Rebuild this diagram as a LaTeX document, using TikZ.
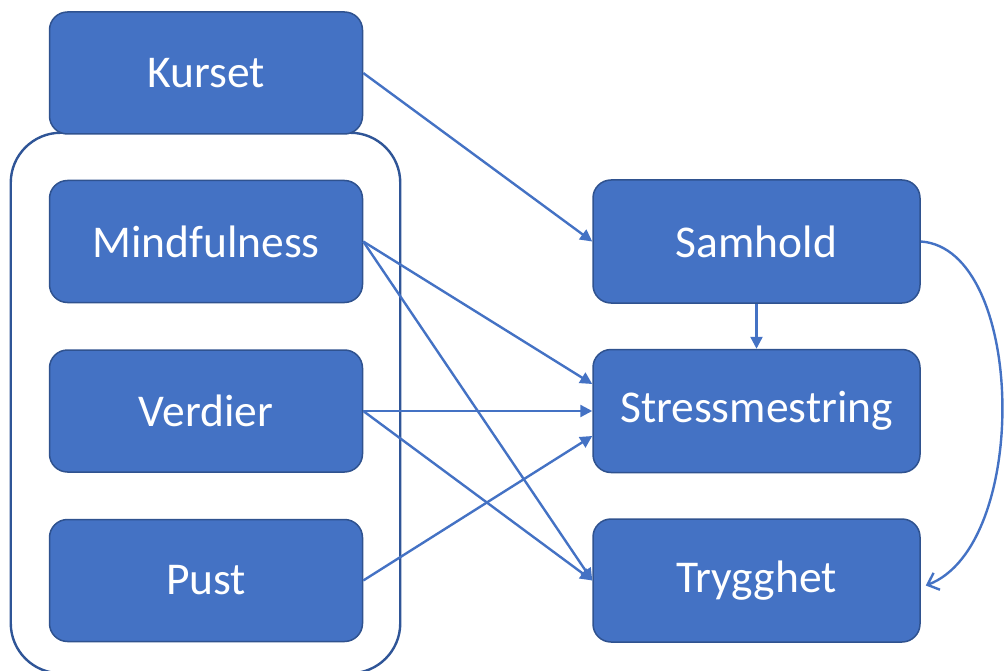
\documentclass[tikz,border=0pt]{standalone}
\usepackage{fontspec}
\setmainfont{Carlito}
\usetikzlibrary{positioning,arrows.meta,backgrounds}

\definecolor{boxblue}{HTML}{4472C4}
\definecolor{edgeblue}{HTML}{2F528F}
\definecolor{groupblue}{HTML}{2F5597}

\begin{document}
\begin{tikzpicture} [
                x=1pt, y=1pt,
                factornode/.style={
                    rectangle,
                    rounded corners=18pt,
                    draw=edgeblue,
                    line width=1.5pt,
                    fill=boxblue,
                    text=white,
                    font=\fontsize{45.5}{54}\selectfont,
                    minimum width=313pt,
                    minimum height=122pt
                },
                outcomenode/.style={
                    factornode,
                    minimum width=327pt,
                    minimum height=123pt
                },
                effect/.style={
                    draw=boxblue,
                    line width=2.4pt,
                    -{Triangle[length=12pt,width=12pt]}
                }
            ]

                \useasboundingbox (0,0) rectangle (1006,-671);

                \node[factornode]   (kurset)                                        at (206,-73)    {Kurset};
                \node[factornode]   (mindfulness)   [below=45pt of kurset]                          {Mindfulness};
                \node[factornode]   (verdier)       [below=46pt of mindfulness]                     {Verdier};
                \node[factornode]   (pust)          [below=46pt of verdier]                         {Pust};

                \node[outcomenode]  (samhold)       [right=229pt of mindfulness]                    {Samhold};
                \node[outcomenode]  (stress)        [below=45pt of samhold]                         {Stressmestring};
                \node[outcomenode]  (trygghet)      [below=45pt of stress]                          {Trygghet};

                \begin{scope}[on background layer]
                    \draw[groupblue, line width=2.4pt, rounded corners=50pt]
                        ([shift={(-38,47)}]mindfulness.north west) rectangle ([shift={(37,-31)}]pust.south east);
                \end{scope}

                \draw[effect] (kurset.east)         -- (samhold.west);
                \draw[effect] (mindfulness.east)    -- ([yshift=27pt]stress.west);
                \draw[effect] (mindfulness.east)    -- (trygghet.west);
                \draw[effect] (verdier.east)        -- (stress.west);
                \draw[effect] (verdier.east)        -- (trygghet.west);
                \draw[effect] (pust.east)           -- ([yshift=-25pt]stress.west);
                \draw[effect] (samhold.south)       -- (stress.north);

                \draw[boxblue, line width=2.4pt, -{Straight Barb[length=10pt,width=18pt]}]
                    (samhold.east) .. controls +(105,-7) and +(105,40) .. ([shift={(5,-5)}]trygghet.east);

            \end{tikzpicture}
\end{document}
